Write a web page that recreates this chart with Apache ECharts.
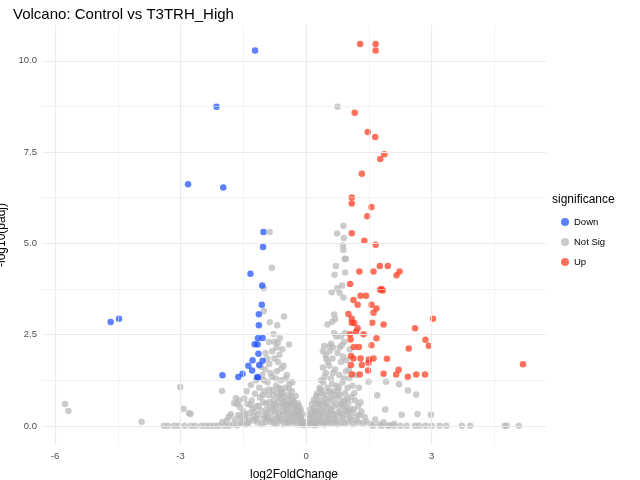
<!DOCTYPE html>
<html>
<head>
<meta charset="utf-8">
<script src="https://cdn.jsdelivr.net/npm/echarts@6/dist/echarts.min.js"></script>
<style>html,body{margin:0;padding:0;background:#fff}#main{width:640px;height:480px}</style>
</head>
<body>
<div id="main"></div>
<script>
// [log2FoldChange, -log10(padj)]
const downPoints = [
  [-1.22,10.28],[-2.14,8.74],[-2.82,6.62],[-1.98,6.53],[-1.02,5.31],[-1.03,4.90],[-1.33,4.17],
  [-1.05,3.85],[-1.06,3.32],[-1.13,3.06],[-4.67,2.85],[-4.47,2.94],[-1.13,2.76],[-1.15,2.40],
  [-1.04,2.41],[-1.23,2.24],[-1.16,2.23],[-1.14,1.98],[-1.28,1.80],[-1.04,1.79],[-1.38,1.65],
  [-1.12,1.67],[-1.29,1.52],[-1.52,1.43],[-1.62,1.34],[-2.00,1.39],[-1.17,1.34],[-1.15,1.32]
]
const upPoints = [
  [1.29,10.46],[1.66,10.46],[1.66,10.28],[1.16,8.58],[1.47,8.05],[1.65,7.91],[1.87,7.44],[1.77,7.31],
  [1.33,6.91],[1.09,6.26],[1.09,6.09],[1.56,6.00],[1.46,5.74],[1.09,5.28],[1.39,5.07],[1.66,4.96],
  [1.76,4.38],[1.95,4.38],[1.27,4.23],[1.61,4.23],[2.23,4.23],[2.16,4.13],[1.05,3.89],[1.77,3.73],
  [1.80,3.75],[1.83,3.71],[1.30,3.57],[1.43,3.57],[1.13,3.45],[1.23,3.32],[1.56,3.32],[1.68,3.22],
  [1.61,3.10],[1.01,3.07],[1.09,2.94],[3.03,2.94],[1.58,2.83],[1.09,2.83],[1.15,2.82],[1.85,2.78],
  [1.23,2.68],[2.60,2.68],[1.19,2.58],[1.05,2.51],[1.37,2.51],[1.06,2.37],[1.68,2.40],[2.85,2.36],
  [2.93,2.20],[1.56,2.21],[1.14,2.16],[1.26,2.16],[2.45,2.12],[1.07,1.92],[1.13,1.85],[1.30,1.85],
  [1.61,1.85],[1.50,1.82],[1.93,1.84],[1.49,1.73],[5.18,1.69],[1.07,1.67],[1.33,1.67],[2.21,1.54],
  [1.48,1.52],[1.09,1.42],[1.28,1.41],[1.85,1.43],[2.15,1.41],[2.43,1.35],[2.63,1.41],[2.84,1.41]
]
const notSigPoints = [
  [-0.87,5.31],[-0.82,4.33],[-1.01,3.77],[-1.01,3.15],[-0.53,3.00],[-0.87,2.84],[-0.69,2.76],
  [-0.78,2.52],[-0.76,2.31],[-0.68,2.27],[-0.41,2.23],[-3.01,1.07],[-2.01,0.96],[-2.93,0.47],
  [-2.80,0.35],[-2.76,0.33],[-3.93,0.12],[-5.76,0.60],[-5.68,0.41],
  [-3.40,0.01],[-3.30,0.01],[-3.15,0.01],[-3.05,0.01],[-2.90,0.01],[-2.75,0.01],[-2.65,0.01],
  [-2.50,0.01],[-2.40,0.01],[-2.30,0.01],[-2.20,0.01],[-2.10,0.01],[-1.95,0.01],[-1.85,0.01],
  [-1.68,0.77],[-1.65,0.60],[-1.72,0.62],[-1.60,0.70],[-1.85,0.25],[-1.80,0.32],[-1.90,0.15],[-2.00,0.10],
  [-1.75,0.05],[-1.70,0.18],[-1.62,0.30],[-1.58,0.52],[-1.55,0.12],[-1.50,0.40],[-1.48,0.75],[-1.45,0.22],
  [-1.42,0.95],[-1.40,0.60],[-1.38,0.08],[-1.35,0.35],[-1.32,1.12],[-1.30,0.70],[-1.28,0.48],[-1.25,0.15],
  [-1.22,0.88],[-1.20,1.25],[-1.18,0.55],[-1.15,0.30],[-1.12,1.05],[-1.10,0.78],[-1.08,0.42],[-1.05,1.40],
  [-1.02,0.20],[-1.00,0.95],[-0.98,1.55],[-0.96,0.62],[-0.94,0.35],[-0.92,1.20],[-0.90,0.85],[-0.88,1.70],
  [-0.86,0.50],[-0.84,0.12],[-0.82,1.35],[-0.80,0.98],[-0.78,0.70],[-0.76,1.85],[-0.74,0.40],[-0.72,1.10],
  [-0.70,1.50],[-0.68,0.25],[-0.66,0.80],[-0.64,1.95],[-0.62,0.55],[-0.60,1.25],[-0.58,0.92],[-0.56,0.30],
  [-0.54,1.65],[-0.52,0.68],[-0.50,1.05],[-0.48,0.18],[-0.46,1.40],[-0.44,0.45],[-0.42,0.85],[-0.40,1.15],
  [-0.38,0.60],[-0.36,0.28],[-0.34,0.95],[-0.32,0.72],[-0.30,0.38],[-0.28,0.55],[-0.26,0.15],[-0.24,0.48],
  [-0.22,0.30],[-0.20,0.62],[-0.18,0.22],[-0.16,0.40],[-0.14,0.10],[-0.12,0.25],[-0.10,0.15],[-0.08,0.06],
  [-0.06,0.12],[-0.04,0.03],[-1.65,0.02],[-1.52,0.06],[-1.44,0.04],[-1.36,0.16],[-1.26,0.26],[-1.16,0.10],
  [-1.06,0.05],[-0.99,0.28],[-0.91,0.18],[-0.83,0.36],[-0.77,0.08],[-0.71,0.22],[-0.63,0.14],[-0.57,0.42],
  [-0.53,0.05],[-0.47,0.33],[-0.43,0.20],[-0.39,0.08],[-0.35,0.48],[-0.31,0.12],[-0.27,0.30],[-0.23,0.05],
  [-0.19,0.40],[-0.15,0.28],[-0.11,0.04],[-0.09,0.33],[-0.87,0.66],[-0.79,0.52],[-0.69,0.90],[-0.61,0.75],
  [-0.51,0.58],[-0.45,0.70],[-0.37,0.80],[-0.29,0.66],[-0.25,0.82],[-0.21,0.50],[-0.55,0.88],[-0.65,1.05],
  [-0.75,0.60],[-0.95,0.45],[-1.03,0.65],[-1.13,0.55],[-1.23,0.40],[-1.33,0.58],[-1.46,0.32],[-1.56,0.24],
  [-0.85,1.45],[-0.73,1.30],[-0.59,1.58],[-0.49,1.30],[-0.41,1.02],[-0.33,1.20],[-0.67,1.75],[-0.81,2.05],
  [-0.93,1.85],[-0.57,2.10],[-1.08,1.62],[-0.97,2.00],[-0.63,2.40],[-0.71,2.15],[-0.89,2.30],[-1.01,1.25],
  [-0.93,0.25],[-0.81,0.20],[-0.73,0.48],[-0.65,0.35],[-0.59,0.18],[-0.49,0.45],[-0.41,0.35],[-0.33,0.20],
  [-0.45,0.10],[-0.55,0.60],[-0.67,0.65],[-0.79,0.85],[-0.89,1.00],[-1.04,0.85],[-0.61,1.00],[-0.71,0.05],
  [-0.97,0.10],[-1.19,0.20],[-0.53,0.80],[-0.43,0.60],[-0.35,0.62],[-0.25,0.38],[-0.17,0.55],[-0.13,0.45],
  [0.75,8.74],[0.89,5.48],[0.74,5.27],[0.90,5.15],[0.88,4.95],[0.89,4.82],[0.92,4.58],[0.95,4.57],
  [0.71,4.38],[0.68,4.14],[0.93,4.20],[0.86,3.85],[0.74,3.77],[0.61,3.66],[0.80,3.65],[0.89,3.52],
  [0.67,3.05],[0.51,2.78],[0.62,2.85],[0.69,2.92],[0.67,2.55],[0.83,2.46],[0.93,2.55],[0.43,2.19],
  [0.56,2.20],[0.64,2.15],[0.85,2.21],[0.40,2.05],[0.47,1.94],[2.22,1.14],[2.43,0.97],[2.63,0.86],
  [1.49,1.21],[1.91,1.21],[1.70,0.84],[1.89,0.45],[2.28,0.31],[2.66,0.33],[2.98,0.31],
  [0.05,0.04],[0.07,0.12],[0.09,0.22],[0.11,0.08],[0.13,0.35],[0.15,0.18],[0.17,0.50],[0.19,0.28],
  [0.21,0.06],[0.23,0.65],[0.25,0.40],[0.27,0.15],[0.29,0.80],[0.31,0.52],[0.33,0.25],[0.35,1.00],
  [0.37,0.68],[0.39,0.35],[0.41,1.20],[0.43,0.85],[0.45,0.10],[0.47,1.45],[0.49,0.58],[0.51,1.05],
  [0.53,0.30],[0.55,1.65],[0.57,0.75],[0.59,1.30],[0.61,0.45],[0.63,1.85],[0.65,0.95],[0.67,0.20],
  [0.69,1.55],[0.71,0.62],[0.73,1.10],[0.75,2.00],[0.77,0.38],[0.79,1.40],[0.81,0.85],[0.83,1.75],
  [0.85,0.12],[0.87,1.20],[0.89,0.55],[0.91,2.30],[0.93,0.90],[0.95,1.50],[0.97,0.30],[0.99,1.05],
  [1.01,0.65],[1.03,1.30],[1.05,0.22],[1.08,0.80],[1.11,1.10],[1.14,0.45],[1.17,0.70],[1.20,0.15],
  [1.24,0.55],[1.28,0.30],[1.32,0.40],[1.36,0.08],[1.40,0.25],[1.45,0.12],[1.55,0.05],[1.65,0.18],
  [1.75,0.04],[1.85,0.10],[2.00,0.02],[2.10,0.06],
  [0.06,0.30],[0.10,0.45],[0.14,0.60],[0.18,0.72],[0.22,0.42],[0.26,0.90],[0.30,0.33],[0.34,0.58],
  [0.38,0.92],[0.42,0.48],[0.46,0.75],[0.50,0.22],[0.54,0.95],[0.58,0.40],[0.62,1.15],[0.66,0.55],
  [0.70,0.32],[0.74,0.78],[0.78,1.05],[0.82,0.28],[0.86,0.68],[0.90,1.30],[0.94,0.42],[0.98,0.75],
  [1.02,1.55],[1.06,0.48],[1.10,0.35],[1.15,0.90],[1.22,0.28],[1.30,0.65],[0.12,0.05],[0.20,0.02],
  [0.28,0.05],[0.36,0.10],[0.44,0.04],[0.52,0.12],[0.60,0.06],[0.68,0.10],[0.76,0.05],[0.84,0.35],
  [0.92,0.06],[1.00,0.12],[1.12,0.05],[1.25,0.10],[0.40,1.60],[0.48,1.85],[0.56,2.05],[0.64,1.45],
  [0.72,2.45],[0.80,2.15],[0.88,1.90],[0.96,1.80],[1.04,2.10],[0.60,2.25],[0.52,1.75],[0.44,1.35],
  [0.36,1.25],[0.32,1.05],[0.24,0.82],[1.18,1.40],[1.26,1.05],
  [0.16,0.10],[0.24,0.20],[0.32,0.15],[0.40,0.22],[0.48,0.38],[0.56,0.18],[0.64,0.30],[0.72,0.15],
  [0.80,0.50],[0.88,0.22],[0.96,0.50],[0.20,0.35],[0.28,0.62],[0.36,0.42],[0.44,0.65],[0.52,0.52],
  [0.60,0.70],[0.68,0.85],[0.76,0.95],[0.84,0.60],[0.92,0.70],[1.00,0.40],[1.08,0.18],[0.58,0.90],
  [1.60,0.01],[1.80,0.01],[1.95,0.01],[2.10,0.01],[2.25,0.01],[2.40,0.01],[2.60,0.01],[2.70,0.01],
  [2.85,0.01],[3.00,0.01],[3.19,0.01],[3.35,0.01],[3.72,0.01],[3.92,0.01],[4.74,0.01],[4.79,0.01],[5.08,0.01]
]
const xTicks = [-6, -3, 0, 3]
const yTicks = [0, 2.5, 5, 7.5, 10]
const xGrid = [-6, -4.5, -3, -1.5, 0, 1.5, 3, 4.5]
const yGrid = [0, 1.25, 2.5, 3.75, 5, 6.25, 7.5, 8.75, 10]

const font = 'Liberation Sans, Arial, sans-serif'
const gridLines = xGrid.map(v => ({xAxis: v, lineStyle: {width: v % 3 === 0 ? 1.1 : 0.6}}))
  .concat(yGrid.map(v => ({yAxis: v, lineStyle: {width: v % 2.5 === 0 ? 1.1 : 0.6}})))

function scatter(name, data, color) {
  return {
    name: name, type: 'scatter', data: data, symbolSize: 6.5, z: 3,
    itemStyle: {color: color, opacity: 0.72}
  }
}

const myChart = echarts.init(document.getElementById('main'))
myChart.setOption({
  animation: false,
  textStyle: {fontFamily: font},
  title: {text: 'Volcano: Control vs T3TRH_High', left: 8, top: 2,
    textStyle: {fontSize: 15, fontWeight: 'normal', color: '#000', fontFamily: font}},
  grid: {left: 42, right: 94, top: 25, bottom: 35, containLabel: false, outerBoundsMode: 'none'},
  xAxis: {
    type: 'value', min: -6.31, max: 5.73,
    name: 'log2FoldChange', nameLocation: 'middle', nameGap: 24,
    nameTextStyle: {fontSize: 12, color: '#000'},
    axisLine: {show: false}, axisTick: {show: false}, splitLine: {show: false},
    axisLabel: {customValues: xTicks, color: '#4d4d4d', fontSize: 9.5, margin: 6}
  },
  yAxis: {
    type: 'value', min: -0.52, max: 10.98,
    name: '-log10(padj)', nameLocation: 'middle', nameGap: 26,
    nameTextStyle: {fontSize: 12, color: '#000'},
    axisLine: {show: false}, axisTick: {show: false}, splitLine: {show: false},
    axisLabel: {customValues: yTicks, color: '#4d4d4d', fontSize: 9.5, margin: 5,
      formatter: v => v.toFixed(1)}
  },
  legend: {
    orient: 'vertical', left: 556, top: 212, itemWidth: 8, itemHeight: 8, itemGap: 10,
    icon: 'circle', data: ['Down', 'Not Sig', 'Up'],
    textStyle: {fontSize: 9.5, color: '#000'}
  },
  graphic: [{type: 'text', left: 552, top: 194,
    style: {text: 'significance', fontSize: 12, fill: '#000', fontFamily: font}}],
  series: [
    {
      name: 'grid', type: 'scatter', data: [], z: 1, silent: true,
      markLine: {silent: true, symbol: 'none', label: {show: false},
        lineStyle: {color: '#ebebeb', type: 'solid'}, data: gridLines}
    },
    scatter('Not Sig', notSigPoints, '#b8b8b8'),
    scatter('Down', downPoints, '#1f4fff'),
    scatter('Up', upPoints, '#ff3a1f')
  ]
})
</script>
</body>
</html>
